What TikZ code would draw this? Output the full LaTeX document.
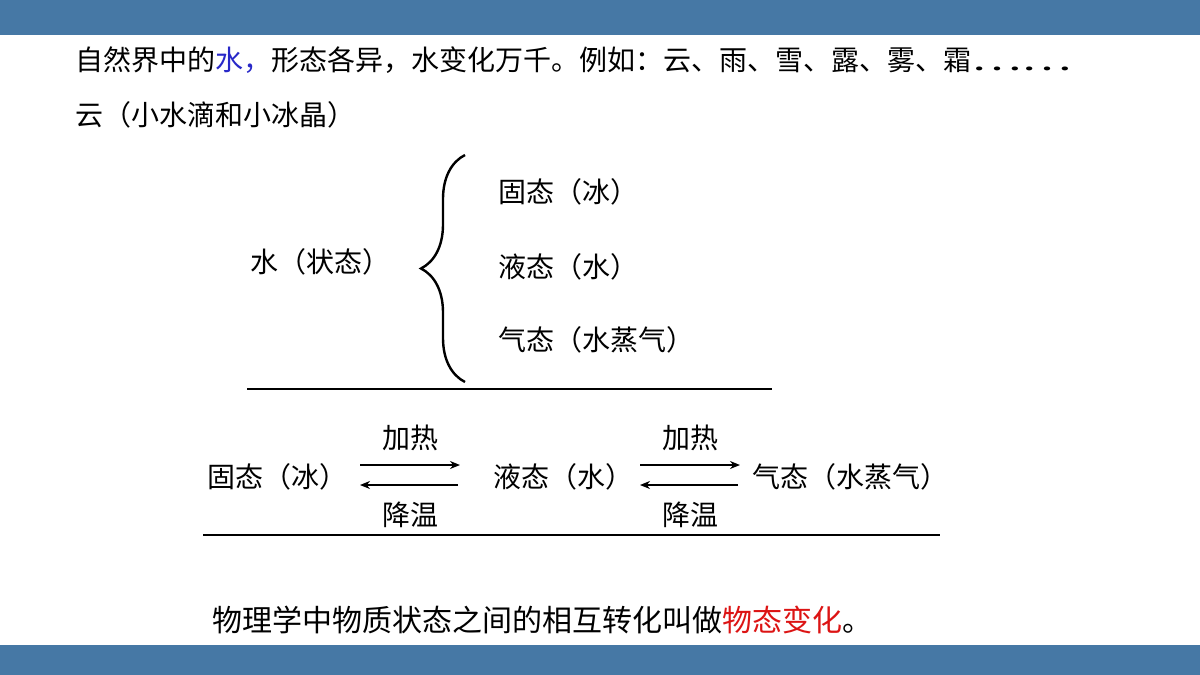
\documentclass[tikz,border=0pt]{standalone}
\usepackage{fontspec}
\usepackage{tikz}
\usetikzlibrary{positioning,decorations.pathreplacing,arrows.meta}
\newfontfamily\cjk{Noto Sans CJK SC}
\definecolor{barblue}{RGB}{70,120,165}
\definecolor{wordblue}{RGB}{40,40,200}
\definecolor{wordred}{RGB}{220,20,20}
\tikzset{
  txt/.style={font=\cjk\fontsize{14}{16}\selectfont, inner sep=0pt},
  statebox/.style={txt, anchor=west},
  turn/.style={-{Stealth[length=5pt,width=4pt]}, line width=0.8pt}
}
\begin{document}
\begin{tikzpicture}[x=0.5pt,y=-0.5pt]
        \useasboundingbox (0,0) rectangle (1200,675);
        % Bars
        \fill[barblue] (0,0) rectangle (1200,35);
        \fill[barblue] (0,645) rectangle (1200,675);

        % Heading
        \node[statebox] (head) at (75,60) {自然界中的\textcolor{wordblue}{水，}形态各异，水变化万千。例如：云、雨、雪、露、雾、霜\scalebox{1.7}[1]{……}};
        \node[statebox] (cloud) at (75,115) {云（小水滴和小冰晶）};

        % States of water
        \node[statebox] (water) at (250,262) {水（状态）};
        \draw[line width=1.2pt, decoration={brace,amplitude=22pt}, decorate]
          (465,382) -- (465,155);
        \node[statebox] (solid) at (498,192) {固态（冰）};
        \node[statebox] (liquid) at (498,267) {液态（水）};
        \node[statebox] (gas) at (498,340) {气态（水蒸气）};
        \draw[line width=1pt] (247,389) -- (772,389);

        % Changes
        \node[statebox] (ice) at (207,477) {固态（冰）};
        \node[statebox] (wat) at (493,477) {液态（水）};
        \node[statebox] (vap) at (752,477) {气态（水蒸气）};
        \coordinate (a1) at (360,465); \coordinate (a2) at (460,465);
        \coordinate (b1) at (458,485); \coordinate (b2) at (360,485);
        \coordinate (c1) at (640,465); \coordinate (c2) at (740,465);
        \coordinate (d1) at (738,485); \coordinate (d2) at (640,485);
        \draw[turn] (a1) -- (a2);
        \draw[turn] (b1) -- (b2);
        \draw[turn] (c1) -- (c2);
        \draw[turn] (d1) -- (d2);
        \node[txt] (heat1) at (410,438) {加热};
        \node[txt] (cool1) at (410,515) {降温};
        \node[txt] (heat2) at (690,438) {加热};
        \node[txt] (cool2) at (690,515) {降温};
        \draw[line width=1pt] (203,535) -- (940,535);

        % Conclusion
        \node[statebox, font=\cjk\fontsize{15}{18}\selectfont] (def) at (212,620)
          {物理学中物质状态之间的相互转化叫做\textcolor{wordred}{物态变化}。};
\end{tikzpicture}
\end{document}
